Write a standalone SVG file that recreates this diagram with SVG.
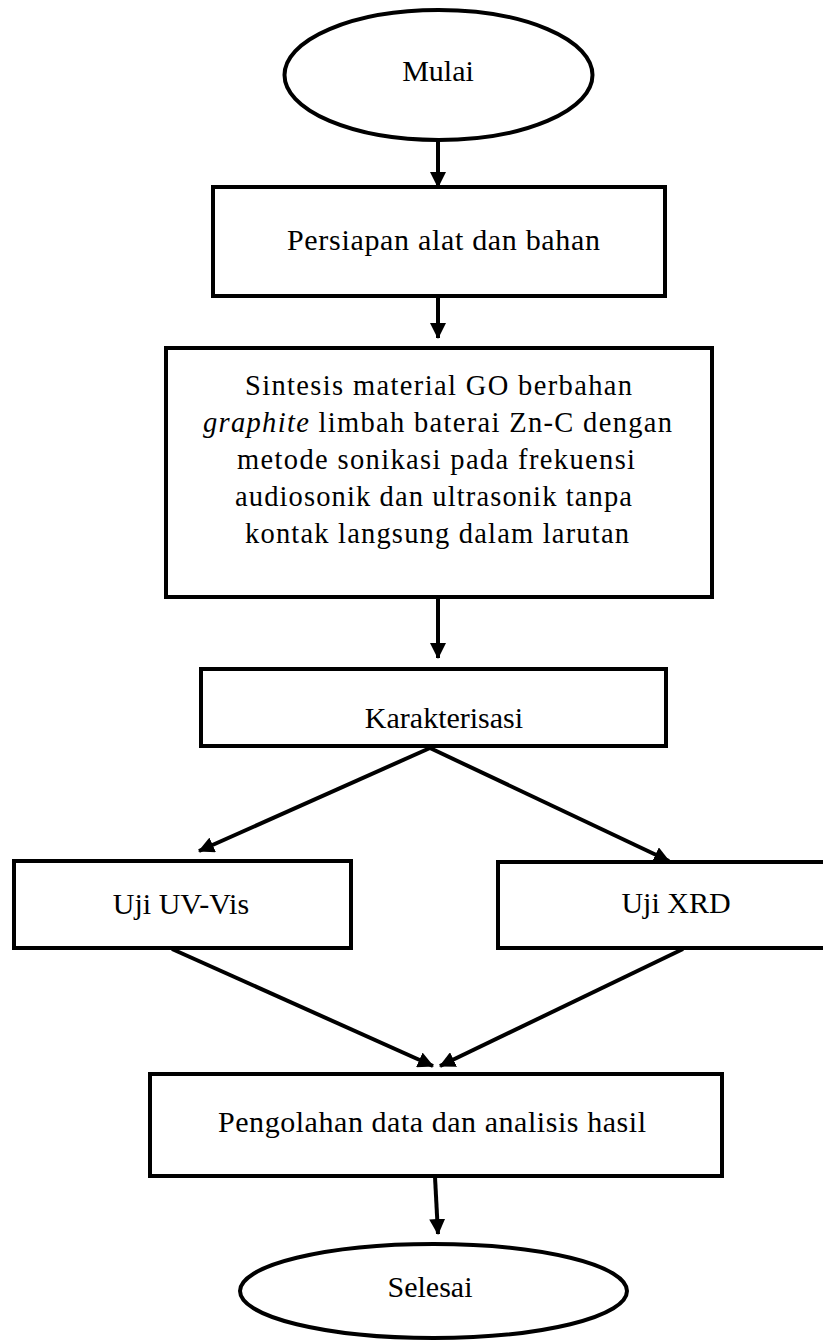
<svg xmlns="http://www.w3.org/2000/svg" width="823" height="1340" viewBox="0 0 823 1340">
<style>
.shape{fill:#fff;stroke:#000;stroke-width:4}
.t{font-family:"Liberation Serif","Times New Roman",serif;font-size:30px;fill:#000}
.t2{font-family:"Liberation Serif","Times New Roman",serif;font-size:28.5px;fill:#000}
.c{stroke:#000;stroke-width:4;fill:none;marker-end:url(#ah)}
</style>
<defs>
<marker id="ah" markerUnits="userSpaceOnUse" markerWidth="16" markerHeight="16" viewBox="0 0 16 16" refX="15" refY="8" orient="auto">
<path d="M0,0 L16,8 L0,16 Z" fill="#000"/>
</marker>
</defs>
<rect width="823" height="1340" fill="#fff"/>
<g id="connectors">
<line class="c" x1="438" y1="141" x2="438" y2="187"/>
<line class="c" x1="438" y1="297" x2="438" y2="338"/>
<line class="c" x1="438" y1="598" x2="438" y2="658"/>
<line class="c" x1="430" y1="748" x2="199" y2="851"/>
<line class="c" x1="430" y1="748" x2="669" y2="861"/>
<line class="c" x1="172" y1="949" x2="433" y2="1066"/>
<line class="c" x1="683" y1="949" x2="440" y2="1066"/>
<line class="c" x1="435" y1="1177" x2="438" y2="1234"/>
</g>
<g id="mulai">
<ellipse class="shape" cx="438.5" cy="75" rx="154" ry="65"/>
<text class="t" x="438" y="81" text-anchor="middle">Mulai</text>
</g>
<g id="persiapan">
<rect class="shape" x="213" y="187" width="452" height="109"/>
<text class="t" x="287" y="250" textLength="313" lengthAdjust="spacing">Persiapan alat dan bahan</text>
</g>
<g id="sintesis">
<rect class="shape" x="166" y="348" width="546" height="249"/>
<text class="t2" x="245" y="395" textLength="387" lengthAdjust="spacing">Sintesis material GO berbahan</text>
<text class="t2" x="203" y="432" textLength="469" lengthAdjust="spacing"><tspan font-style="italic">graphite</tspan> limbah baterai Zn-C dengan</text>
<text class="t2" x="237" y="469" textLength="398" lengthAdjust="spacing">metode sonikasi pada frekuensi</text>
<text class="t2" x="235" y="506" textLength="397" lengthAdjust="spacing">audiosonik dan ultrasonik tanpa</text>
<text class="t2" x="245" y="543" textLength="384" lengthAdjust="spacing">kontak langsung dalam larutan</text>
</g>
<g id="karakterisasi">
<rect class="shape" x="201" y="669" width="465" height="77"/>
<text class="t" x="444" y="728" text-anchor="middle">Karakterisasi</text>
</g>
<g id="uvvis">
<rect class="shape" x="14" y="861" width="337" height="87"/>
<text class="t" x="181" y="914" text-anchor="middle">Uji UV-Vis</text>
</g>
<g id="xrd">
<rect class="shape" x="498" y="862" width="356" height="86"/>
<text class="t" x="676" y="913" text-anchor="middle">Uji XRD</text>
</g>
<g id="pengolahan">
<rect class="shape" x="150" y="1074" width="572" height="102"/>
<text class="t" x="218" y="1132" textLength="428" lengthAdjust="spacing">Pengolahan data dan analisis hasil</text>
</g>
<g id="selesai">
<ellipse class="shape" cx="433.5" cy="1291" rx="193.5" ry="47"/>
<text class="t" x="430" y="1297" text-anchor="middle">Selesai</text>
</g>
</svg>
